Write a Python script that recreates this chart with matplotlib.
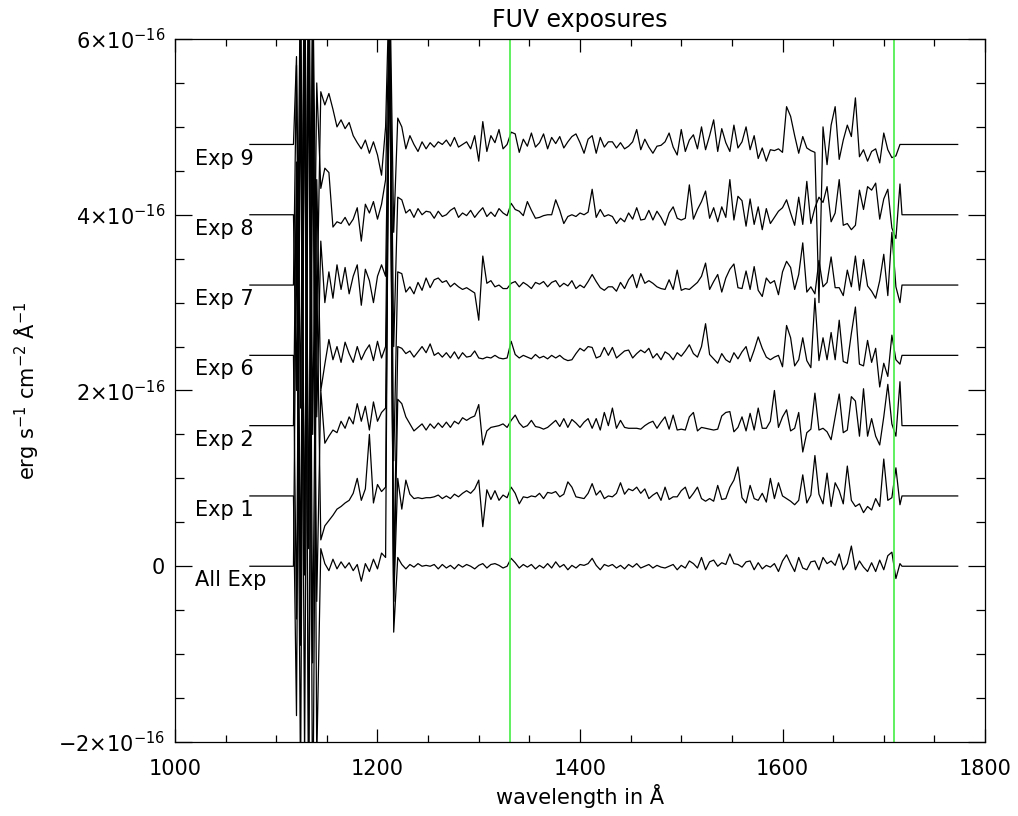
import numpy as np
import matplotlib
matplotlib.use('Agg')
import matplotlib.pyplot as plt
from matplotlib.ticker import MultipleLocator, FixedLocator, FixedFormatter

# Wavelength grid of the extracted spectra (Angstrom), 4 A bins
WAVE = np.arange(1120, 1720, 4)
# Flat padding before / after the detector range
PAD_START = [1074, 1117]
PAD_END = [1718, 1773]

# Where the edges of the good range are marked
EDGES = [1331, 1710]

# Flux per exposure, in units of 1e-17 erg/s/cm2/A (relative to its offset)
all_exp = [40, -25, 60, -28, 65, -22, 2,
           0.3, -0.5, 0.8, -0.3, 0.5, -0.2, 0.4, -0.5, 0.2, -1.7, 0.3, -0.6, 0.8, -0.3, 1.5,
           1.0, 70.0, -7.5, 1.0,
           0.2, -0.3, 0.2, -0.1, 0.3, 0.0, 0.1,
           0, 0.2, -0.3, 0.2, -0.2, 0.1, -0.3, 0.2, -0.1, 0.2, 0, -0.3, 0.1, 0.3, -0.2,
           0.2, 0.3, 0.1, -0.2, 0, 0.9, 0.4, -0.2, 0.2, -0.1, 0.2, -0.3, 0.1, -0.2, 0.3,
           -0.2, 0.5, -0.1, 0.2, -0.4, 0.1, -0.2, 0.2, 0.1, 0.3, 0.9, 0.1, -0.4, 0.2, 0,
           0.2, -0.2, 0.1, -0.3, 0.2, -0.1, 0.3, -0.2, 0, 0.2, -0.2, 0.1, -0.1, -0.2, 0,
           0.2, -0.4, 0.1, -0.2, 0.6, 0.3, -0.2, 1.0, -0.4, 0.5, 0.7, 0, 0.4, 0.2, 1.4,
           0.3, 0.2, -0.1, 0.5, 0.6, -0.4, 0.4, -0.3, 0.1,
           -0.1, 0.3, -0.6, 0.6, 1.3, 0.3, -0.6, 1.0, -0.2, -0.4, 0.5, 0.6, -0.4, 1.0, 0.3,
           0.6, 0.1, 1.4, -0.4, 0.3, 2.3, -0.4, 0.6, -0.1, -0.6, 0.4, -0.6, 0.7, -0.4, 1.2,
           1.6, -1.4, 0.3]

exp1 = [-25, 50, -30, 55, -40, 25, -5,
        -3.4, -2.8, -2.2, -1.5, -1.2, -0.8, -0.5, 0.3, 2.0, -0.5, 0.8, 7.0, -0.8, 1.3, 0.5,
        1.0, 55.0, -12.0, 2.0,
        -1.5, 1.8, 0.2, -0.3, -0.2, -0.3, -0.2,
        -0.2, -0.1, 0.1, -0.3, 0, -0.3, 0.2, -0.1, 0.3, 0.6, 0.3, 0.8, 1.8, -3.5, 0.7,
        -0.4, 0.6, -0.5, 0.1, -0.2, 1.0, 0.3, -0.9, -0.1, -0.2, 0, -0.1, 0.3, -0.3, 0.4,
        0.3, 0.5, -0.1, 0.2, 1.6, 1.0, -0.1, -0.2, -0.3, 0.3, 1.4, 0.1, 0.6, -0.3, 0,
        -0.1, 0.3, 1.5, 0.2, 0.8, 0.6, 1.0, 0.3, 0.8, -0.3, 0.1, 0.4, -0.5, 1.0, -0.4,
        -0.1, -0.1, 0.6, 1.0, -0.3, 0.3, 1.0, -0.3, -0.6, -0.3, -0.6, 1.2, -0.4, -0.3, 1.0,
        1.8, 3.3, -0.2, -0.8, 1.2, -0.3, -0.5, 0.3, -0.7,
        2.0, -0.3, 1.5, 0, -0.3, -0.6, -1.0, -0.5, 2.4, -0.8, 0.1, 4.6, 0.2, -0.9, 2.6,
        -1.2, 1.5, 0.6, -0.9, 3.4, -0.5, -1.2, -0.9, -1.9, -1.2, -1.6, -0.3, -1.2, 4.2, -0.5,
        -0.2, 3.2, -1.0]

exp2 = [30, -25, 45, -40, 35, -20, 4,
        -2.0, -1.2, -0.5, -0.8, 0.5, -0.3, 1.0, 0.2, 2.5, 0.5, 2.2, -0.5, 2.7, 0.5, 1.5,
        2.0, 45.0, -20.0, 3.0,
        2.5, 1.0, 0.2, -0.6, -0.2, 0.2, -0.5,
        0.2, -0.3, 0.3, -0.2, 0.4, -0.2, 0.5, 0.2, 0.9, 0.6, 0.9, 1.1, 2.4, -2.2, -0.6,
        -0.2, -0.1, 0, 0.2, -0.2, 0.6, 1.2, 0.3, -0.2, 0, 0.6, -0.1, -0.2, -0.4, -0.2,
        0.2, 0.6, -0.1, 0.8, -0.2, 0.7, 0.3, -0.2, 0.4, 0.8, -0.3, 0.8, -0.5, 1.5, 0,
        2.0, -0.3, 0.6, -0.2, -0.3, -0.3, -0.3, -0.4, 0, 0.3, 0.5, -0.3, 0.4, 1.0, -0.4,
        1.2, -0.5, -0.4, -0.5, 1.0, 1.5, -0.6, -0.2, -0.3, -0.4, -0.5, -0.4, 1.1, 1.5, 1.6,
        -0.7, -0.2, 1.0, -0.6, 1.4, -0.5, 2.0, -0.3, -0.3,
        0.5, 4.0, -0.2, 1.0, 1.8, -0.6, -0.3, 1.5, -3.0, -0.8, -0.4, 3.7, -0.5, -0.3, -0.7,
        -1.6, 1.0, 3.6, -0.8, -0.5, 3.3, 2.8, -1.2, 4.2, -1.2, 0.8, -1.2, -2.2, 1.0, 4.7,
        0.2, -1.2, 5.0]

exp6 = [-30, 40, -25, 45, -35, 20, -4,
        -1.0, 1.8, -0.5, 1.0, -0.8, 1.5, 0.2, -0.8, 1.0, -0.5, 0.5, 1.2, -0.6, 1.6, -0.3,
        1.0, 38.0, -25.0, 1.0,
        0.8, 0.2, 0.5, -0.2, 0.4, 1.0, 0.3,
        1.3, 0, 0.3, -0.2, 0.3, -0.3, 0.4, -0.4, 0.3, -0.2, -0.1, 0.5, -0.3, -0.4, -0.2,
        -0.3, 0, -0.3, -0.4, -0.3, 1.6, 0.1, -0.3, 0, -0.2, -0.4, 0.1, -0.3, -0.1, -0.4,
        0, -0.3, 0, -0.4, -0.6, -0.5, 0.2, 0.8, 0.5, 1.0, 0.9, -0.3, -0.1, 0.9, 0,
        0.9, -0.3, 0.1, 0.5, 0.6, -0.3, 0.2, 0.6, 0.3, 0.8, -0.3, 0.2, -0.5, 0.4, 0.1,
        -0.5, 0.3, -0.1, 0.5, 1.2, 0.2, -0.2, 1.0, 3.6, 0.1, -0.4, -0.9, 0.2, -0.5, -0.8,
        0.3, -0.4, 0.4, 1.0, -0.7, 0.6, 2.1, 0.8, -0.2,
        -0.5, -0.2, 0, -1.3, 3.4, 2.0, -1.2, -0.5, 2.0, -0.6, -1.4, 6.5, -0.6, 2.0, -0.5,
        2.6, -0.5, 4.0, -0.7, -0.9, 2.5, 5.5, -1.0, -1.2, 1.7, -0.8, 0.8, -3.6, -0.9, -2.4,
        2.3, -0.5, -1.0]

exp7 = [25, -35, 40, -30, 30, -15, 5,
        -2.0, 1.5, -1.5, 2.3, -0.5, 2.0, -1.0, 1.0, 2.3, -2.3, 1.8, 0.5, -2.0, 1.0, 2.3,
        1.0, 30.0, -20.0, 1.5,
        1.3, -0.8, -0.2, -1.0, 0.3, -0.6, 0.8,
        -0.3, 0.6, 0.8, 0.3, 0.5, -0.2, 0.2, -0.2, -0.5, -0.3, -0.6, -0.9, -4.0, 3.3, 0.2,
        0.5, -0.2, 0, -0.4, -0.4, 0.2, 0.4, -0.2, 0.3, 0, -0.4, 0.3, 0.1, 0.4, -0.2,
        0.3, 0.5, -0.2, 0.2, -0.1, 0.5, -0.4, 0, -0.3, 0.4, 1.2, 0.4, -0.3, -0.6, -0.2,
        -0.2, -0.7, 0.3, -0.4, 0.6, 1.2, -0.3, 1.3, 0.2, 0.5, 0.2, -0.2, -0.4, -0.5, 0.6,
        -0.5, 1.7, -0.6, -0.4, -0.5, -0.1, 0.3, 1.0, 2.5, -0.5, 0.4, 1.2, -0.8, 0.8, 1.8,
        2.4, -0.3, -0.4, 1.6, -0.5, 2.1, -0.6, -1.3, 0.8,
        0.2, 0.5, -1.1, 1.5, 2.7, 2.0, -0.5, 1.2, 4.8, -0.8, -0.2, -1.0, 2.8, -0.2, 0.3,
        3.2, -0.3, -0.3, -1.2, 1.7, -0.2, 3.3, -0.6, 2.9, -0.1, -0.7, -1.5, 0.5, 3.5, -1.2,
        6.0, -0.2, -2.0]

exp8 = [-20, 30, -40, 35, -25, 15, 3,
        5.3, 4.8, -1.4, -0.8, -1.0, -0.3, -1.2, -0.5, 0.8, -3.0, 1.2, 0.2, 1.5, -0.5, 1.2,
        4.0, 25.0, -15.0, 2.0,
        1.7, 0.2, 0.6, -0.3, 0.7, 0.0, 0.4,
        0.3, -0.4, 0.4, -0.2, 0, 0.5, 0.8, -0.3, 0.2, -0.1, 0.5, -0.3, 0.3, 0.8, -0.2,
        0.3, -0.2, 0.7, 0.2, -0.1, 1.3, 0.6, 0.4, -0.1, 1.5, 0.5, -0.4, -0.3, -0.1, 0,
        0, 1.7, 0.5, -1.0, -0.2, 0, -0.2, 0.2, 0, 0.3, 2.9, -0.3, 0.6, -0.2, 0,
        -0.2, -1.0, -0.4, -0.8, 0.2, -0.5, 0.8, -0.6, -0.5, 0.5, -0.6, 0.4, -0.3, -1.2, 0.2,
        0.9, -0.4, -0.6, -0.4, 3.4, -0.5, 0.6, 1.5, 2.7, -0.4, 0.8, -0.8, 0.9, -0.3, 4.0,
        -0.6, 2.1, 1.6, -1.3, 1.8, -1.1, 0.9, -1.7, 0.7,
        -1.0, -0.3, 0.4, 0.8, 1.7, 0.2, -1.2, 2.0, -1.1, 3.8, -1.0, 0.8, 2.0, 1.4, 3.2,
        -0.8, 0.2, 4.0, -1.2, -1.0, -1.7, -1.2, 2.8, 0.6, 3.2, 2.8, 3.6, -0.5, 1.8, 2.9,
        -1.5, -2.7, 3.5]

exp9 = [10, -30, 25, -45, 20, -20, 6,
        4.5, 5.8, 4.0, 2.0, 2.8, 1.8, 2.5, 1.0, 0.2, -0.5, 0.5, -1.0, 0.3, -1.2, -3.5,
        2.0, 20.0, -10.0, 3.0,
        2.0, -0.5, 1.0, 0.0, -0.8, 0.3, -0.5,
        0.2, -0.3, 0.3, 0, 0.5, -0.2, 0.8, -0.3, 0, 0.3, -0.5, 1.0, -1.9, 2.6, -0.8,
        1.0, 0.2, 1.7, -0.5, 0, 1.4, 1.2, -0.9, 0.6, -0.2, 1.3, -0.3, 0.2, 1.2, -0.5,
        0.8, 0.1, 0.9, -0.4, 0.3, 0.9, 1.2, 0.2, -1.0, 0.6, 1.0, -1.0, 0.8, -0.3, 0.3,
        0.3, -0.4, 0.2, -0.5, -0.2, 0.3, 1.7, -0.6, 0.6, -0.3, -1.0, -0.2, -0.1, 0.3, 1.3,
        -0.3, -1.2, 1.7, -0.8, 0.5, 1.1, -0.5, 2.0, -0.6, 1.0, 2.8, -0.8, 1.8, 0.2, -0.8,
        2.2, -0.4, 0.3, 2.0, -0.6, 1.0, -1.6, -0.4, -1.9,
        -0.6, -0.7, -0.5, -0.9, 4.3, 3.2, 1.0, -1.0, 0.9, -0.4, -0.7, -0.9, -18.0, 2.0, -2.3,
        2.2, 4.3, -1.7, 0.5, 2.2, 0.9, 5.3, -1.4, -0.6, -1.9, -0.8, -0.5, -2.1, 1.3, -0.6,
        -1.5, -1.3, 0]

# Exposure names and the vertical offset (in 1e-16) used to stack them
NAMES = ['All Exp', 'Exp 1', 'Exp 2', 'Exp 6', 'Exp 7', 'Exp 8', 'Exp 9']
OFFSETS = [0.0, 0.8, 1.6, 2.4, 3.2, 4.0, 4.8]
SERIES = [all_exp, exp1, exp2, exp6, exp7, exp8, exp9]

YTICKS = [-2e-16, 0, 2e-16, 4e-16, 6e-16]
YTICK_LABELS = ['\u22122\u00d710$^{-16}$', '0', '2\u00d710$^{-16}$',
                '4\u00d710$^{-16}$', '6\u00d710$^{-16}$']


def plot_exposures():
    plt.rcParams['font.family'] = 'DejaVu Sans'
    plt.rcParams['mathtext.default'] = 'regular'

    fig = plt.figure(figsize=(10.18, 8.16), dpi=100)
    ax = fig.add_axes([0.1719, 0.0907, 0.7957, 0.8615])

    # Each exposure is shifted up by its offset and padded flat on both sides
    for name, off, vals in zip(NAMES, OFFSETS, SERIES):
        base = off * 1e-16
        x = np.concatenate([PAD_START, WAVE, PAD_END])
        y = base + np.concatenate([[0, 0], np.array(vals) * 1e-17, [0, 0]])
        ax.plot(x, y, color='black', lw=0.9)
        ax.text(1020, base - 0.16e-16, name, fontsize=15, ha='left', va='center')

    # Markers for the edges of the usable range
    for edge in EDGES:
        ax.axvline(edge, color='#44ee44', lw=1.2)

    ax.set_xlim(1000, 1800)
    ax.set_ylim(-2e-16, 6e-16)

    ax.xaxis.set_major_locator(MultipleLocator(200))
    ax.xaxis.set_minor_locator(MultipleLocator(50))
    ax.yaxis.set_major_locator(FixedLocator(YTICKS))
    ax.yaxis.set_major_formatter(FixedFormatter(YTICK_LABELS))
    ax.yaxis.set_minor_locator(MultipleLocator(0.5e-16))

    ax.tick_params(which='both', direction='in', top=True, right=True, width=0.9)
    ax.tick_params(axis='x', which='major', length=9.5, pad=12, labelsize=15)
    ax.tick_params(axis='x', which='minor', length=4.7)
    ax.tick_params(axis='y', which='major', length=12, pad=7, labelsize=15)
    ax.tick_params(axis='y', which='minor', length=6.5)
    for sp in ax.spines.values():
        sp.set_linewidth(0.9)

    ax.set_title('FUV exposures', fontsize=17, pad=9)
    ax.set_xlabel('wavelength in Å', fontsize=15, labelpad=4)
    ax.set_ylabel(r'erg s$^{-1}$ cm$^{-2}$ Å$^{-1}$', fontsize=15)
    ax.yaxis.set_label_coords(-0.165, 0.5)

    fig.savefig('out.png', dpi=100)


if __name__ == "__main__":
    plot_exposures()
